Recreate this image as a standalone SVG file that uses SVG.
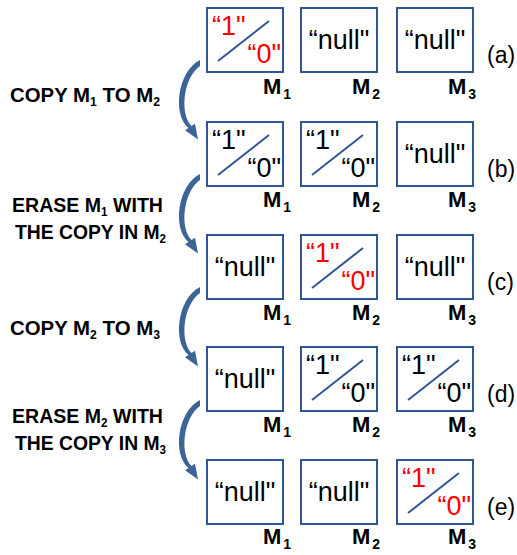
<svg xmlns="http://www.w3.org/2000/svg" xmlns:xlink="http://www.w3.org/1999/xlink" width="517" height="555" viewBox="0 0 517 555">
<style>
.box{fill:#fff;stroke:#2F5597;stroke-width:2}
.diag{stroke:#2F5597;stroke-width:2;fill:none}
.val{font-family:"Liberation Sans",Arial,sans-serif;font-size:27px;fill:#000}
.red{fill:#FF0000}
.m{font-family:"Liberation Sans",Arial,sans-serif;font-size:22px;font-weight:bold;fill:#000}
.sub{font-size:14px}
.lab{font-family:"Liberation Sans",Arial,sans-serif;font-size:23px;fill:#000}
.step{font-family:"Liberation Sans",Arial,sans-serif;font-size:20px;font-weight:bold;fill:#000}
.step .sub{font-size:12px}
.arr{fill:#3C6496}
</style>
<defs>
<path id="arrow" class="arr" d="M200,-1 C177,11 172.5,54 188.5,67 L185,69.3 L198,78.5 L195,62.7 L191.5,65 C179.5,53 183,17 200,5 Z"/>
<g id="data">
<rect class="box" x="0" y="0" width="76" height="64"/>
<line class="diag" x1="11" y1="53" x2="62" y2="13"/>
</g>
</defs>

<g id="connectors">
<use xlink:href="#arrow" transform="translate(0,61)"/>
<use xlink:href="#arrow" transform="translate(0,175)"/>
<use xlink:href="#arrow" transform="translate(0,288)"/>
<use xlink:href="#arrow" transform="translate(0,401)"/>
</g>

<g id="step-labels">
<text class="step" x="10" y="102" textLength="150" lengthAdjust="spacingAndGlyphs">COPY M<tspan class="sub" dy="4">1</tspan><tspan dy="-4"> TO M</tspan><tspan class="sub" dy="4">2</tspan></text>
<text class="step" x="12" y="212" textLength="151" lengthAdjust="spacingAndGlyphs">ERASE M<tspan class="sub" dy="4">1</tspan><tspan dy="-4"> WITH</tspan></text>
<text class="step" x="15" y="239" textLength="151" lengthAdjust="spacingAndGlyphs">THE COPY IN M<tspan class="sub" dy="4">2</tspan></text>
<text class="step" x="10" y="335" textLength="150" lengthAdjust="spacingAndGlyphs">COPY M<tspan class="sub" dy="4">2</tspan><tspan dy="-4"> TO M</tspan><tspan class="sub" dy="4">3</tspan></text>
<text class="step" x="12" y="423" textLength="151" lengthAdjust="spacingAndGlyphs">ERASE M<tspan class="sub" dy="4">2</tspan><tspan dy="-4"> WITH</tspan></text>
<text class="step" x="15" y="450" textLength="151" lengthAdjust="spacingAndGlyphs">THE COPY IN M<tspan class="sub" dy="4">3</tspan></text>
</g>

<!-- Row a -->
<g id="a-M1" transform="translate(207,8)">
<use xlink:href="#data"/>
<text class="val red" x="5" y="27">“1"</text>
<text class="val red" x="74" y="55" text-anchor="end">“0"</text>
</g>
<g id="a-M2" transform="translate(301,8)">
<rect class="box" x="0" y="0" width="76" height="64"/>
<text class="val" x="38" y="41" text-anchor="middle">“null"</text>
</g>
<g id="a-M3" transform="translate(397,8)">
<rect class="box" x="0" y="0" width="76" height="64"/>
<text class="val" x="38" y="41" text-anchor="middle">“null"</text>
</g>
<g id="a-labels">
<text class="m" x="263" y="94">M<tspan class="sub" dx="2" dy="5">1</tspan></text>
<text class="m" x="352" y="94">M<tspan class="sub" dx="2" dy="5">2</tspan></text>
<text class="m" x="448" y="94">M<tspan class="sub" dx="2" dy="5">3</tspan></text>
<text class="lab" x="487" y="63">(a)</text>
</g>

<!-- Row b -->
<g id="b-M1" transform="translate(207,122)">
<use xlink:href="#data"/>
<text class="val" x="5" y="27">“1"</text>
<text class="val" x="74" y="55" text-anchor="end">“0"</text>
</g>
<g id="b-M2" transform="translate(301,122)">
<use xlink:href="#data"/>
<text class="val" x="5" y="27">“1"</text>
<text class="val" x="74" y="55" text-anchor="end">“0"</text>
</g>
<g id="b-M3" transform="translate(397,122)">
<rect class="box" x="0" y="0" width="76" height="64"/>
<text class="val" x="38" y="41" text-anchor="middle">“null"</text>
</g>
<g id="b-labels">
<text class="m" x="263" y="207">M<tspan class="sub" dx="2" dy="5">1</tspan></text>
<text class="m" x="352" y="207">M<tspan class="sub" dx="2" dy="5">2</tspan></text>
<text class="m" x="448" y="207">M<tspan class="sub" dx="2" dy="5">3</tspan></text>
<text class="lab" x="487" y="177">(b)</text>
</g>

<!-- Row c -->
<g id="c-M1" transform="translate(207,235)">
<rect class="box" x="0" y="0" width="76" height="64"/>
<text class="val" x="38" y="41" text-anchor="middle">“null"</text>
</g>
<g id="c-M2" transform="translate(301,235)">
<use xlink:href="#data"/>
<text class="val red" x="5" y="27">“1"</text>
<text class="val red" x="74" y="55" text-anchor="end">“0"</text>
</g>
<g id="c-M3" transform="translate(397,235)">
<rect class="box" x="0" y="0" width="76" height="64"/>
<text class="val" x="38" y="41" text-anchor="middle">“null"</text>
</g>
<g id="c-labels">
<text class="m" x="263" y="320">M<tspan class="sub" dx="2" dy="5">1</tspan></text>
<text class="m" x="352" y="320">M<tspan class="sub" dx="2" dy="5">2</tspan></text>
<text class="m" x="448" y="320">M<tspan class="sub" dx="2" dy="5">3</tspan></text>
<text class="lab" x="487" y="290">(c)</text>
</g>

<!-- Row d -->
<g id="d-M1" transform="translate(207,347)">
<rect class="box" x="0" y="0" width="76" height="64"/>
<text class="val" x="38" y="41" text-anchor="middle">“null"</text>
</g>
<g id="d-M2" transform="translate(301,347)">
<use xlink:href="#data"/>
<text class="val" x="5" y="27">“1"</text>
<text class="val" x="74" y="55" text-anchor="end">“0"</text>
</g>
<g id="d-M3" transform="translate(397,347)">
<use xlink:href="#data"/>
<text class="val" x="5" y="27">“1"</text>
<text class="val" x="74" y="55" text-anchor="end">“0"</text>
</g>
<g id="d-labels">
<text class="m" x="263" y="432">M<tspan class="sub" dx="2" dy="5">1</tspan></text>
<text class="m" x="352" y="432">M<tspan class="sub" dx="2" dy="5">2</tspan></text>
<text class="m" x="448" y="432">M<tspan class="sub" dx="2" dy="5">3</tspan></text>
<text class="lab" x="487" y="402">(d)</text>
</g>

<!-- Row e -->
<g id="e-M1" transform="translate(207,460)">
<rect class="box" x="0" y="0" width="76" height="64"/>
<text class="val" x="38" y="41" text-anchor="middle">“null"</text>
</g>
<g id="e-M2" transform="translate(301,460)">
<rect class="box" x="0" y="0" width="76" height="64"/>
<text class="val" x="38" y="41" text-anchor="middle">“null"</text>
</g>
<g id="e-M3" transform="translate(397,460)">
<use xlink:href="#data"/>
<text class="val red" x="5" y="27">“1"</text>
<text class="val red" x="74" y="55" text-anchor="end">“0"</text>
</g>
<g id="e-labels">
<text class="m" x="263" y="544">M<tspan class="sub" dx="2" dy="5">1</tspan></text>
<text class="m" x="352" y="544">M<tspan class="sub" dx="2" dy="5">2</tspan></text>
<text class="m" x="448" y="544">M<tspan class="sub" dx="2" dy="5">3</tspan></text>
<text class="lab" x="487" y="515">(e)</text>
</g>
</svg>
